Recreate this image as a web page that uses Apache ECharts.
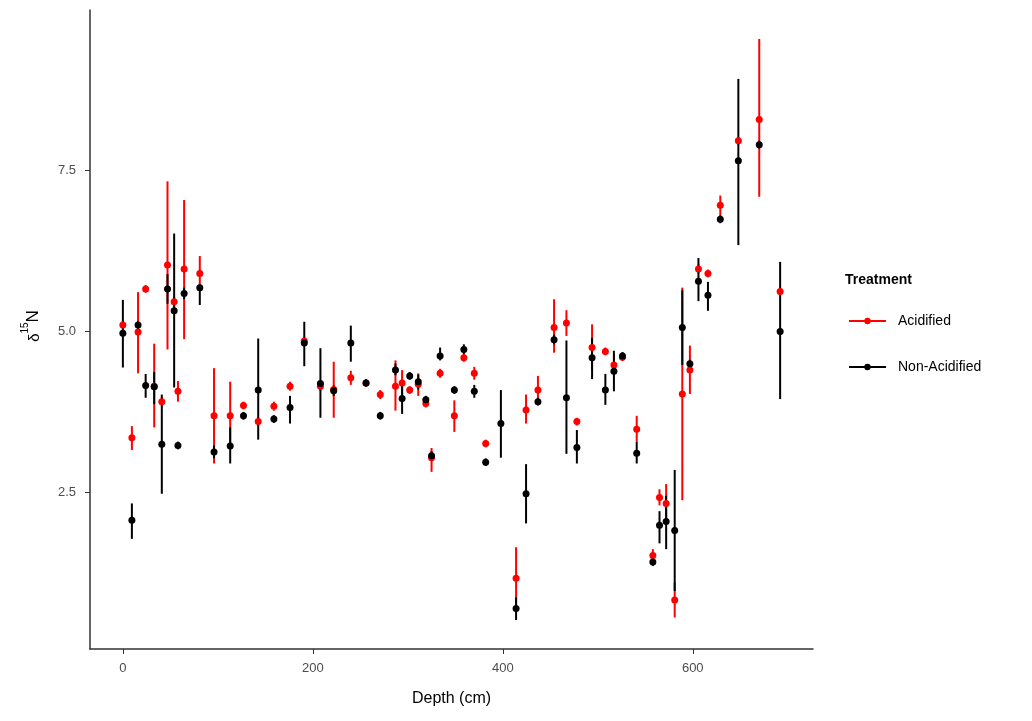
<!DOCTYPE html>
<html>
<head>
<meta charset="utf-8">
<script src="https://cdn.jsdelivr.net/npm/echarts@6/dist/echarts.min.js"></script>
<style>
  html, body { margin: 0; padding: 0; background: #fff; }
  #chart { width: 1032px; height: 721px; }
</style>
</head>
<body>
<div id="chart"></div>
<script>
// depth of each sample (cm)
const depth = [0, 9.5, 16, 24, 33, 41, 47, 54, 58, 64.5, 81, 96, 113, 127, 142.5, 159, 176, 191, 208, 222,
  240, 256, 271, 287, 294, 302, 311, 319, 325, 334, 349, 359, 370, 382, 398, 414, 424.5, 437, 454, 467,
  478, 494, 508, 517, 526, 541, 558, 565, 572, 581, 589, 597, 606, 616, 629, 648, 670, 692]

// Acidified
const acidMean = [5.10, 3.35, 4.99, 5.66, 4.15, 3.91, 6.03, 5.46, 4.07, 5.97, 5.90, 3.69, 3.69, 3.85, 3.60, 3.84, 4.15, 4.85, 4.15, 4.10,
  4.28, 4.20, 4.02, 4.15, 4.20, 4.09, 4.18, 3.88, 3.04, 4.35, 3.69, 4.59, 4.35, 3.26, null, 1.17, 3.78, 4.09, 5.06, 5.13,
  3.60, 4.75, 4.69, 4.48, 4.60, 3.48, 1.52, 2.42, 2.33, 0.83, 4.03, 4.40, 5.97, 5.90, 6.96, 7.96, 8.29, 5.62]
const acidLow = [5.04, 3.16, 4.35, 5.60, 3.51, 3.84, 4.72, 5.38, 3.91, 4.88, 5.63, 2.95, 3.17, 3.79, 3.53, 3.77, 4.08, 4.79, 4.08, 3.66,
  4.17, 4.14, 3.95, 3.77, 4.00, 4.03, 4.00, 3.82, 2.82, 4.28, 3.44, 4.53, 4.25, 3.20, null, 0.69, 3.57, 3.92, 4.67, 4.93,
  3.54, 4.40, 4.63, 4.30, 4.54, 3.29, 1.45, 2.30, 2.00, 0.56, 2.38, 4.03, 5.90, 5.84, 6.77, 7.90, 7.09, 5.56]
const acidHigh = [5.16, 3.53, 5.61, 5.72, 4.81, 3.98, 7.33, 5.54, 4.23, 7.04, 6.17, 4.43, 4.22, 3.91, 3.67, 3.91, 4.22, 4.91, 4.22, 4.53,
  4.39, 4.26, 4.09, 4.55, 4.40, 4.15, 4.35, 3.94, 3.19, 4.42, 3.93, 4.65, 4.45, 3.32, null, 1.65, 4.02, 4.31, 5.50, 5.33,
  3.66, 5.11, 4.75, 4.65, 4.66, 3.69, 1.62, 2.55, 2.63, 1.10, 5.68, 4.78, 6.04, 5.96, 7.11, 8.02, 9.54, 5.68]

// Non-Acidified
const nonMean = [4.97, 2.07, 5.10, 4.16, 4.14, 3.25, 5.66, 5.32, 3.23, 5.59, 5.68, 3.13, 3.22, 3.69, 4.09, 3.64, 3.82, 4.82, 4.19, 4.08,
  4.82, 4.20, 3.69, 4.40, 3.96, 4.31, 4.22, 3.94, 3.07, 4.62, 4.09, 4.72, 4.07, 2.97, 3.57, 0.70, 2.48, 3.91, 4.87, 3.97,
  3.20, 4.59, 4.09, 4.38, 4.62, 3.11, 1.42, 1.99, 2.05, 1.91, 5.06, 4.50, 5.78, 5.56, 6.74, 7.65, 7.90, 5.00]
const nonLow = [4.44, 1.78, 5.04, 3.97, 3.87, 2.48, 5.43, 4.13, 3.17, 5.50, 5.41, 3.03, 2.95, 3.63, 3.32, 3.58, 3.57, 4.46, 3.66, 4.00,
  4.53, 4.14, 3.63, 4.32, 3.72, 4.25, 4.10, 3.88, 3.00, 4.55, 4.03, 4.65, 3.97, 2.91, 3.04, 0.52, 2.02, 3.85, 4.80, 3.10,
  2.95, 4.26, 3.86, 4.07, 4.56, 2.95, 1.36, 1.71, 1.62, 0.97, 4.48, 4.44, 5.47, 5.32, 6.68, 6.34, 7.84, 3.95]
const nonHigh = [5.49, 2.33, 5.16, 4.34, 4.37, 4.02, 5.89, 6.52, 3.29, 5.68, 5.73, 3.23, 3.51, 3.75, 4.89, 3.70, 4.00, 5.15, 4.74, 4.16,
  5.09, 4.26, 3.75, 4.50, 4.18, 4.37, 4.33, 4.00, 3.14, 4.75, 4.15, 4.80, 4.17, 3.03, 4.09, 0.87, 2.94, 3.97, 4.95, 4.86,
  3.47, 4.90, 4.34, 4.70, 4.68, 3.29, 1.48, 2.21, 2.45, 2.85, 5.64, 4.56, 6.14, 5.77, 6.80, 8.92, 7.96, 6.08]

const xTicks = [0, 200, 400, 600]
const yTicks = [2.5, 5.0, 7.5]

const RED = '#ff0000'
const BLACK = '#000000'
const FONT = '"Liberation Sans", Arial, sans-serif'

function barData(mean, low, high) {
  const arr = []
  depth.forEach((d, i) => {
    if (mean[i] !== null) arr.push([d, low[i], high[i]])
  })
  return arr
}

function pointData(mean) {
  const arr = []
  depth.forEach((d, i) => {
    if (mean[i] !== null) arr.push([d, mean[i]])
  })
  return arr
}

function errorBars(color) {
  return function(params, api) {
    const p1 = api.coord([api.value(0), api.value(1)])
    const p2 = api.coord([api.value(0), api.value(2)])
    return {
      type: 'line',
      shape: { x1: p1[0], y1: p1[1], x2: p2[0], y2: p2[1] },
      style: { stroke: color, lineWidth: 2 }
    }
  }
}

const myChart = echarts.init(document.getElementById('chart'))
const options = {
  animation: false,
  backgroundColor: '#fff',
  grid: {
    left: 90,
    right: 219,
    top: 10,
    bottom: 72
  },
  xAxis: {
    type: 'value',
    min: -34.6,
    max: 726.6,
    name: 'Depth (cm)',
    nameLocation: 'middle',
    nameGap: 42,
    nameTextStyle: { color: '#000', fontSize: 16, fontFamily: FONT },
    splitLine: { show: false },
    axisLine: { onZero: false, lineStyle: { color: '#333', width: 1.5 } },
    axisTick: { show: true, length: 5, customValues: xTicks, lineStyle: { color: '#333' } },
    axisLabel: { customValues: xTicks, color: '#4d4d4d', fontSize: 13, fontFamily: FONT, margin: 13 }
  },
  yAxis: {
    type: 'value',
    min: 0.07,
    max: 9.99,
    splitLine: { show: false },
    axisLine: { show: true, onZero: false, lineStyle: { color: '#333', width: 1.5 } },
    axisTick: { show: true, length: 5, customValues: yTicks, lineStyle: { color: '#333' } },
    axisLabel: {
      customValues: yTicks,
      color: '#4d4d4d',
      fontSize: 13,
      fontFamily: FONT,
      margin: 14,
      formatter: v => v.toFixed(1)
    }
  },
  graphic: [
    {
      type: 'text',
      x: 31,
      y: 326,
      rotation: Math.PI / 2,
      style: {
        text: '{d|δ}{s|15}{n|N}',
        align: 'center',
        verticalAlign: 'middle',
        fill: '#000',
        fontFamily: FONT,
        rich: {
          d: { fontSize: 15, lineHeight: 22, verticalAlign: 'bottom', fontFamily: FONT },
          s: { fontSize: 10, lineHeight: 22, verticalAlign: 'top', fontFamily: FONT },
          n: { fontSize: 17, lineHeight: 22, verticalAlign: 'bottom', fontFamily: FONT }
        }
      }
    },
    {
      type: 'text',
      left: 845,
      top: 273,
      style: { text: 'Treatment', fill: '#000', fontSize: 14, fontWeight: 'bold', fontFamily: FONT }
    },
    {
      type: 'line',
      shape: { x1: 849, y1: 321, x2: 886, y2: 321 },
      style: { stroke: RED, lineWidth: 2 }
    },
    {
      type: 'circle',
      shape: { cx: 867.5, cy: 321, r: 3.2 },
      style: { fill: RED }
    },
    {
      type: 'text',
      left: 898,
      top: 314,
      style: { text: 'Acidified', fill: '#000', fontSize: 14, fontFamily: FONT }
    },
    {
      type: 'line',
      shape: { x1: 849, y1: 367, x2: 886, y2: 367 },
      style: { stroke: BLACK, lineWidth: 2 }
    },
    {
      type: 'circle',
      shape: { cx: 867.5, cy: 367, r: 3.2 },
      style: { fill: BLACK }
    },
    {
      type: 'text',
      left: 898,
      top: 360,
      style: { text: 'Non-Acidified', fill: '#000', fontSize: 14, fontFamily: FONT }
    }
  ],
  series: [
    {
      name: 'Acidified',
      type: 'custom',
      renderItem: errorBars(RED),
      data: barData(acidMean, acidLow, acidHigh),
      encode: { x: 0, y: [1, 2] }
    },
    {
      name: 'Acidified',
      type: 'scatter',
      symbolSize: 7,
      itemStyle: { color: RED, opacity: 1 },
      data: pointData(acidMean)
    },
    {
      name: 'Non-Acidified',
      type: 'custom',
      renderItem: errorBars(BLACK),
      data: barData(nonMean, nonLow, nonHigh),
      encode: { x: 0, y: [1, 2] }
    },
    {
      name: 'Non-Acidified',
      type: 'scatter',
      symbolSize: 7,
      itemStyle: { color: BLACK, opacity: 1 },
      data: pointData(nonMean)
    }
  ]
}
myChart.setOption(options)
</script>
</body>
</html>
